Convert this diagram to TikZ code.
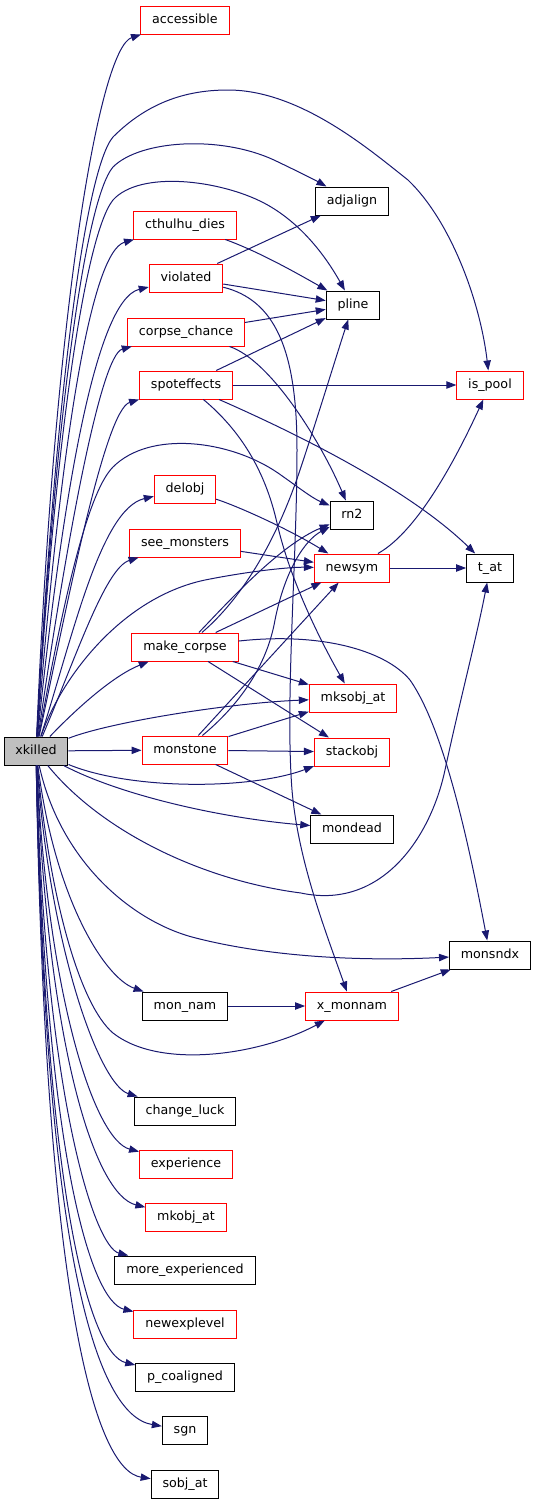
\documentclass[tikz,border=0pt]{standalone}
\usepackage{fontspec}
\setmainfont{DejaVu Sans}
\usetikzlibrary{arrows.meta}

\definecolor{edgeblue}{HTML}{191970}
\definecolor{rootgray}{HTML}{BFBFBF}

\begin{document}
\begin{tikzpicture}[
    x=0.75pt, y=-0.75pt,
    box/.style={draw=black, line width=0.75pt, fill=white, minimum height=21pt, inner xsep=8.5pt, inner ysep=0pt,
      text height=7pt, text depth=2pt, font=\fontsize{9.5}{11}\selectfont},
    redbox/.style={box, draw=red},
    rootbox/.style={box, fill=rootgray},
    call/.style={draw=edgeblue, line width=0.75pt, -{Triangle[length=7.5pt,width=5.5pt]}}
  ]
  \useasboundingbox (0,0) rectangle (536,1504);

  % caller
  \node[rootbox] (xkilled) at (36,751) {xkilled};

  % first column
  \node[redbox] (accessible)   at (185,20)   {accessible};
  \node[redbox] (cthulhu)      at (185,225)  {cthulhu\_dies};
  \node[redbox] (violated)     at (186,278)  {violated};
  \node[redbox] (corpsechance) at (186,332)  {corpse\_chance};
  \node[redbox] (spoteffects)  at (186,385)  {spoteffects};
  \node[redbox] (delobj)       at (185,489)  {delobj};
  \node[redbox] (seemonsters)  at (185,543)  {see\_monsters};
  \node[redbox] (makecorpse)   at (185,647)  {make\_corpse};
  \node[redbox] (monstone)     at (185,750)  {monstone};
  \node[box]    (monnam)       at (185,1006) {mon\_nam};
  \node[box]    (changeluck)   at (185,1111) {change\_luck};
  \node[redbox] (experience)   at (186,1164) {experience};
  \node[redbox] (mkobjat)      at (186,1217) {mkobj\_at};
  \node[box]    (moreexp)      at (185,1270) {more\_experienced};
  \node[redbox] (newexplevel)  at (185,1324) {newexplevel};
  \node[box]    (pcoaligned)   at (185,1377) {p\_coaligned};
  \node[box]    (sgn)          at (185,1430) {sgn};
  \node[box]    (sobjat)       at (185,1484) {sobj\_at};

  % second column
  \node[box]    (adjalign) at (352,201)  {adjalign};
  \node[box]    (pline)    at (353,305)  {pline};
  \node[box]    (rntwo)    at (352,515)  {rn2};
  \node[redbox] (newsym)   at (352,568)  {newsym};
  \node[redbox] (mksobjat) at (353,698)  {mksobj\_at};
  \node[redbox] (stackobj) at (352,752)  {stackobj};
  \node[box]    (mondead)  at (352,829)  {mondead};
  \node[redbox] (xmonnam)  at (352,1006) {x\_monnam};

  % third column
  \node[redbox] (ispool)  at (490,385) {is\_pool};
  \node[box]    (tat)     at (490,568) {t\_at};
  \node[box]    (monsndx) at (490,955) {monsndx};

  % xkilled, upward fan
  \draw[call] (xkilled) .. controls (55,300) and (100,48) .. (accessible);
  \draw[call] (xkilled) .. controls (55,400) and (85,170) .. (113,137) .. controls (150,100) and (190,90) .. (228,90)
              .. controls (300,90) and (370,150) .. (408,180) .. controls (450,220) and (480,300) .. (ispool);
  \draw[call] (xkilled) .. controls (55,420) and (85,200) .. (113,167) .. controls (140,140) and (220,135) .. (274,160)
              .. controls (295,170) and (315,180) .. (adjalign);
  \draw[call] (xkilled) .. controls (55,440) and (85,235) .. (113,200) .. controls (140,170) and (220,180) .. (264,203)
              .. controls (300,222) and (325,255) .. (pline);
  \draw[call] (xkilled) .. controls (60,450) and (90,252) .. (cthulhu);
  \draw[call] (xkilled) .. controls (62,500) and (95,300) .. (violated);
  \draw[call] (xkilled) .. controls (65,550) and (100,355) .. (corpsechance);
  \draw[call] (xkilled) .. controls (68,600) and (105,410) .. (spoteffects);
  \draw[call] (xkilled) .. controls (60,620) and (85,495) .. (113,467) .. controls (150,430) and (230,440) .. (278,473)
              .. controls (298,487) and (312,498) .. (rntwo);
  \draw[call] (xkilled) .. controls (72,640) and (100,509) .. (delobj);
  \draw[call] (xkilled) .. controls (75,660) and (105,568) .. (seemonsters);
  \draw[call] (xkilled) .. controls (60,680) and (120,598) .. (205,580) .. controls (250,571) and (290,567) .. (newsym);
  \draw[call] (xkilled) .. controls (80,705) and (115,675) .. (makecorpse);
  \draw[call] (xkilled) .. controls (110,722) and (230,703) .. (mksobjat);
  \draw[call] (xkilled) -- (monstone);

  % xkilled, downward fan
  \draw[call] (xkilled) .. controls (130,790) and (250,790) .. (stackobj);
  \draw[call] (xkilled) .. controls (120,795) and (220,818) .. (mondead);
  \draw[call] (xkilled) .. controls (100,830) and (200,880) .. (301,893) .. controls (380,910) and (430,840) .. (445,770)
              .. controls (460,700) and (476,640) .. (tat);
  \draw[call] (xkilled) .. controls (60,860) and (130,920) .. (192,937) .. controls (260,955) and (350,962) .. (monsndx);
  \draw[call] (xkilled) .. controls (55,900) and (105,978) .. (monnam);
  \draw[call] (xkilled) .. controls (50,900) and (80,1005) .. (113,1033) .. controls (160,1070) and (260,1055) .. (xmonnam);
  \draw[call] (xkilled) .. controls (50,950) and (100,1085) .. (changeluck);
  \draw[call] (xkilled) .. controls (48,1000) and (95,1140) .. (experience);
  \draw[call] (xkilled) .. controls (48,1050) and (95,1195) .. (mkobjat);
  \draw[call] (xkilled) .. controls (45,1100) and (95,1247) .. (moreexp);
  \draw[call] (xkilled) .. controls (45,1150) and (90,1301) .. (newexplevel);
  \draw[call] (xkilled) .. controls (45,1200) and (90,1354) .. (pcoaligned);
  \draw[call] (xkilled) .. controls (45,1250) and (95,1415) .. (sgn);
  \draw[call] (xkilled) .. controls (45,1300) and (95,1470) .. (sobjat);

  % calls of the first column
  \draw[call] (cthulhu) .. controls (260,252) and (300,275) .. (pline);
  \draw[call] (violated) -- (adjalign);
  \draw[call] (violated) -- (pline);
  \draw[call] (violated) .. controls (275,300) and (297,350) .. (297,450) .. controls (297,560) and (285,700) .. (292,790)
              .. controls (298,860) and (325,930) .. (xmonnam);
  \draw[call] (corpsechance) -- (pline);
  \draw[call] (corpsechance) .. controls (270,360) and (320,440) .. (rntwo);
  \draw[call] (spoteffects) -- (pline);
  \draw[call] (spoteffects) -- (ispool);
  \draw[call] (spoteffects) .. controls (300,435) and (410,490) .. (tat);
  \draw[call] (spoteffects) .. controls (240,430) and (265,470) .. (277,523) .. controls (290,580) and (320,640) .. (mksobjat);
  \draw[call] (delobj) .. controls (240,507) and (290,530) .. (newsym);
  \draw[call] (seemonsters) -- (newsym);
  \draw[call] (makecorpse) .. controls (230,600) and (280,545) .. (rntwo);
  \draw[call] (makecorpse) .. controls (240,600) and (275,545) .. (300,470) .. controls (320,410) and (335,360) .. (pline);
  \draw[call] (makecorpse) -- (newsym);
  \draw[call] (makecorpse) -- (mksobjat);
  \draw[call] (makecorpse) -- (stackobj);
  \draw[call] (makecorpse) .. controls (320,632) and (385,650) .. (410,680) .. controls (445,730) and (470,850) .. (monsndx);
  \draw[call] (monstone) -- (mksobjat);
  \draw[call] (monstone) -- (stackobj);
  \draw[call] (monstone) -- (mondead);
  \draw[call] (monstone) -- (newsym);
  \draw[call] (monstone) .. controls (245,700) and (268,660) .. (275,620) .. controls (285,570) and (305,540) .. (rntwo);
  \draw[call] (monnam) -- (xmonnam);

  % second column onwards
  \draw[call] (newsym) .. controls (420,530) and (460,450) .. (ispool);
  \draw[call] (newsym) -- (tat);
  \draw[call] (xmonnam) -- (monsndx);
\end{tikzpicture}
\end{document}
